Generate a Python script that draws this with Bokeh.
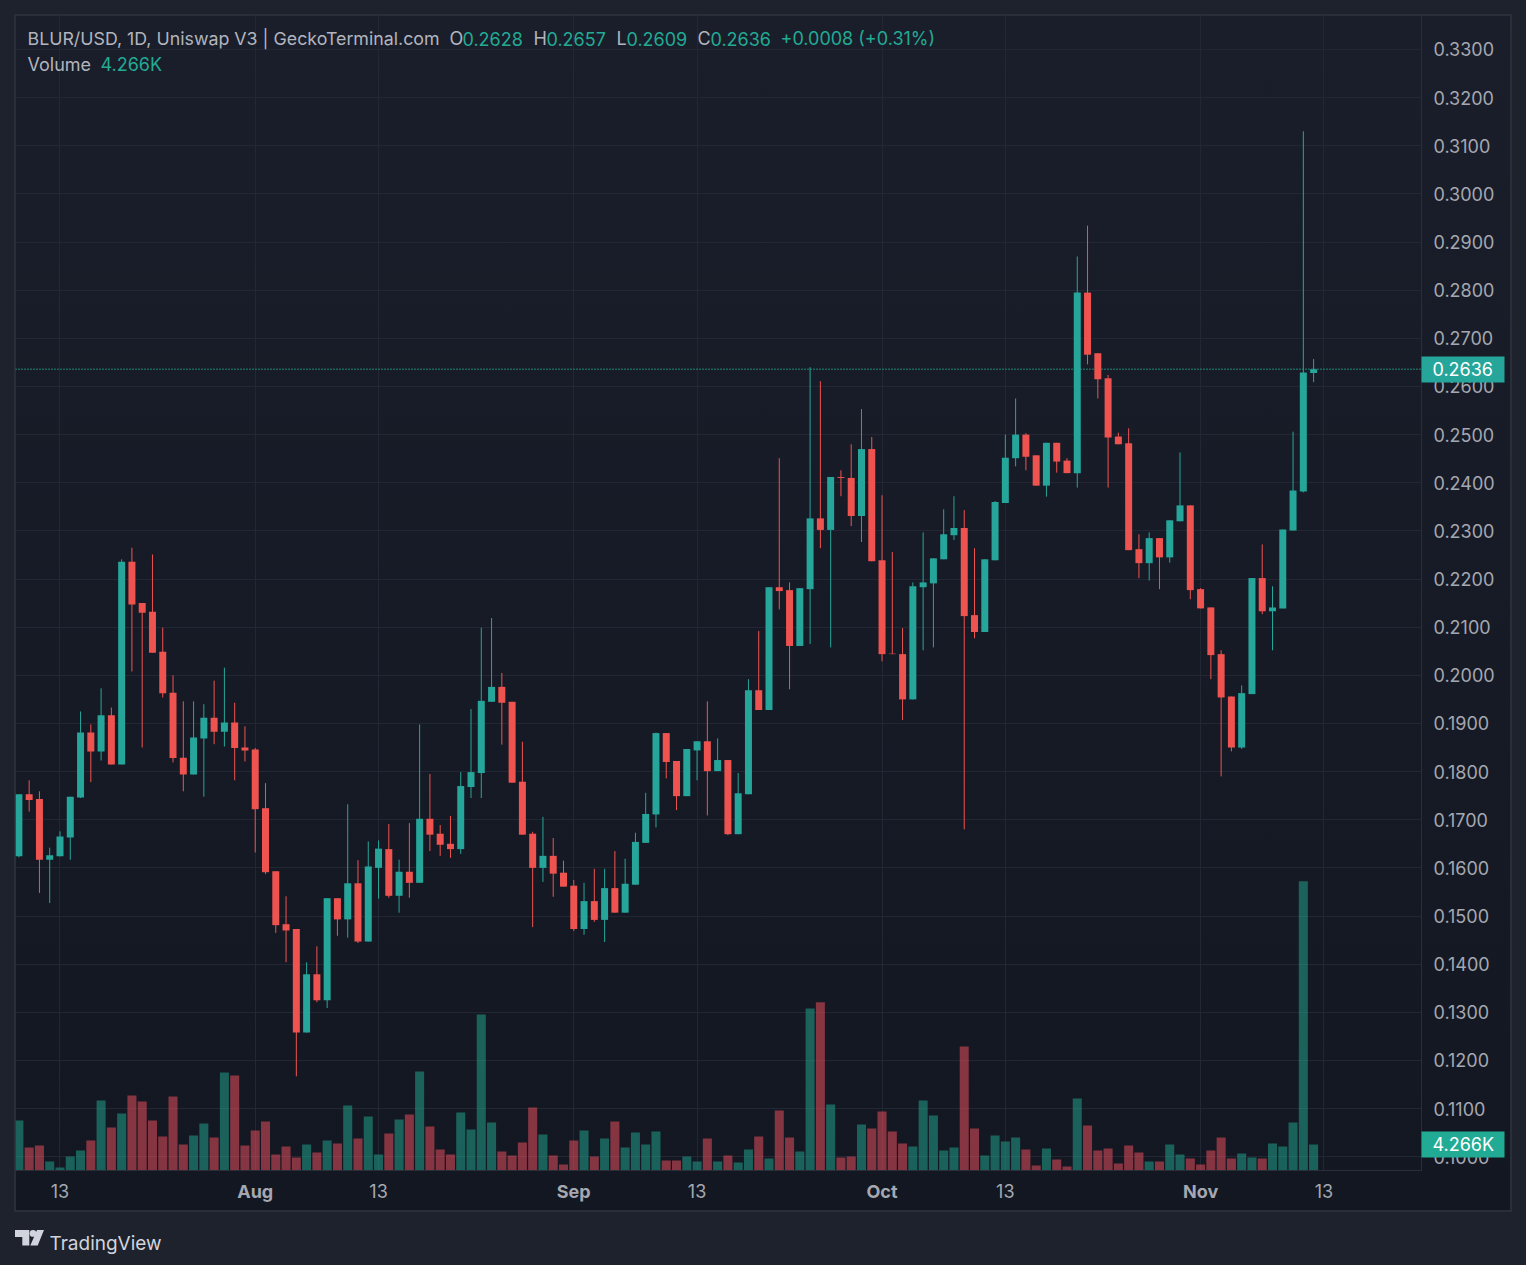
from bokeh.embed import file_html
from bokeh.resources import INLINE
from bokeh.plotting import figure
from bokeh.models import (ColumnDataSource, Range1d, FixedTicker, Label, Span, LinearAxis, Title,
                          GlobalInlineStyleSheet, InlineStyleSheet)

days = list(range(-4, 123))
opens = [.1624,.1753,.1743,.1617,.1624,.1663,.1746,.1881,.1842,.1917,
.1815,.2236,.2150,.2132,.2049,.1964,.1829,.1794,.1869,.1912,
.1883,.1902,.1850,.1846,.1724,.1593,.1483,.1473,.1258,.1379,
.1325,.1537,.1493,.1568,.1447,.1600,.1639,.1542,.1592,.1569,
.1702,.1671,.1650,.1639,.1768,.1797,.1945,.1976,.1945,.1779,
.1671,.1600,.1625,.1590,.1563,.1473,.1531,.1492,.1558,.1507,
.1565,.1652,.1711,.1880,.1822,.1749,.1844,.1863,.1801,.1824,
.1670,.1753,.1969,.1928,.2183,.2177,.2061,.2179,.2326,.2302,
.2412,.2410,.2331,.2470,.2239,.2045,.2044,.1950,.2183,.2191,
.2241,.2291,.2306,.2125,.2090,.2239,.2358,.2451,.2500,.2457,
.2394,.2483,.2446,.2420,.2795,.2669,.2617,.2496,.2482,.2262,
.2233,.2285,.2245,.2320,.2353,.2179,.2141,.2044,.1956,.1850,
.1961,.2202,.2133,.2139,.2301,.2382,.2628]
highs = [.1753,.1782,.1759,.1642,.1676,.1748,.1925,.1898,.1973,.1933,
.2241,.2265,.2150,.2251,.2099,.2000,.1946,.1946,.1940,.1989,
.2016,.1943,.1894,.1849,.1776,.1593,.1541,.1473,.1404,.1437,
.1537,.1537,.1732,.1616,.1655,.1657,.1691,.1617,.1693,.1898,
.1795,.1689,.1708,.1799,.1930,.2099,.2119,.2005,.1945,.1862,
.1675,.1706,.1662,.1615,.1575,.1569,.1598,.1598,.1635,.1619,
.1673,.1756,.1881,.1880,.1822,.1847,.1863,.1946,.1869,.1824,
.1797,.1992,.2092,.2183,.2451,.2193,.2181,.2640,.2611,.2412,
.2426,.2480,.2553,.2495,.2374,.2256,.2098,.2193,.2297,.2243,
.2345,.2372,.2343,.2264,.2241,.2362,.2500,.2575,.2503,.2457,
.2483,.2483,.2451,.2870,.2934,.2669,.2624,.2504,.2513,.2293,
.2297,.2285,.2322,.2463,.2353,.2181,.2141,.2052,.1956,.1979,
.2202,.2272,.2185,.2303,.2506,.3130,.2657]
lows = [.1622,.1717,.1548,.1527,.1624,.1617,.1745,.1778,.1823,.1815,
.1815,.2008,.1850,.2047,.1954,.1819,.1759,.1794,.1748,.1857,
.1852,.1782,.1821,.1632,.1587,.1465,.1404,.1167,.1258,.1321,
.1309,.1459,.1455,.1444,.1447,.1536,.1538,.1507,.1538,.1569,
.1635,.1625,.1621,.1629,.1745,.1745,.1945,.1856,.1777,.1669,
.1477,.1571,.1540,.1561,.1469,.1461,.1488,.1446,.1507,.1507,
.1565,.1652,.1684,.1786,.1720,.1749,.1782,.1709,.1801,.1668,
.1670,.1753,.1928,.1928,.2137,.1971,.2061,.2065,.2264,.2058,
.2372,.2310,.2277,.2237,.2029,.2044,.1907,.1950,.2052,.2058,
.2241,.2281,.1680,.2077,.2090,.2239,.2358,.2434,.2426,.2394,
.2371,.2421,.2420,.2390,.2646,.2575,.2390,.2480,.2260,.2202,
.2197,.2179,.2234,.2320,.2158,.2139,.1992,.1790,.1842,.1847,
.1961,.2127,.2052,.2139,.2301,.2380,.2609]
closes = [.1753,.1741,.1617,.1626,.1665,.1748,.1881,.1842,.1917,.1815,
.2236,.2147,.2130,.2047,.1963,.1828,.1794,.1871,.1912,.1883,
.1902,.1849,.1844,.1722,.1591,.1481,.1470,.1258,.1379,.1325,
.1537,.1493,.1568,.1447,.1603,.1640,.1542,.1592,.1569,.1702,
.1669,.1648,.1639,.1770,.1799,.1947,.1976,.1943,.1777,.1669,
.1600,.1625,.1588,.1561,.1473,.1531,.1492,.1558,.1507,.1567,
.1654,.1712,.1880,.1820,.1749,.1847,.1863,.1801,.1824,.1670,
.1755,.1969,.1928,.2183,.2175,.2061,.2181,.2326,.2302,.2412,
.2410,.2331,.2470,.2237,.2044,.2044,.1950,.2185,.2193,.2243,
.2293,.2306,.2123,.2090,.2241,.2360,.2452,.2500,.2454,.2394,
.2483,.2444,.2420,.2795,.2666,.2615,.2494,.2480,.2260,.2233,
.2285,.2245,.2322,.2353,.2177,.2139,.2042,.1954,.1850,.1963,
.2202,.2133,.2141,.2303,.2384,.2629,.2636]
volumes_k = [8.20,3.77,4.10,1.48,0.49,2.30,3.28,4.92,11.49,7.06,
9.35,12.31,11.32,8.20,5.58,12.14,4.27,5.74,7.71,5.42,
16.08,15.59,4.10,6.56,8.04,2.63,3.94,2.13,4.27,2.95,
4.92,4.43,10.67,5.25,8.86,2.63,6.07,8.37,9.19,16.25,
7.22,3.45,2.63,9.52,6.73,25.60,7.88,3.12,2.46,4.59,
10.34,5.91,2.46,0.98,4.92,6.56,2.30,5.25,8.04,3.77,
6.24,4.27,6.40,1.64,1.64,2.30,1.48,5.25,1.48,2.46,
1.31,3.45,5.58,1.97,9.85,5.42,3.12,26.58,27.57,10.83,
2.13,2.30,7.55,6.89,9.68,6.40,4.43,3.94,11.49,9.03,
3.28,3.77,20.35,6.89,2.46,5.74,4.76,5.42,3.45,0.82,
3.61,1.81,0.66,11.82,7.38,3.28,3.61,1.15,4.10,2.95,
1.48,1.48,4.27,2.63,1.97,0.98,3.28,5.42,1.97,2.79,
2.13,1.97,4.43,3.94,7.88,47.42,4.266]
price_ticks = [.10,.11,.12,.13,.14,.15,.16,.17,.18,.19,.20,.21,.22,.23,.24,.25,.26,.27,.28,.29,.30,.31,.32,.33]
day_labels = {0: "13", 31: "13", 62: "13", 92: "13", 123: "13"}
month_labels = {19: "Aug", 50: "Sep", 80: "Oct", 111: "Nov"}
last_price = 0.2636
last_volume = 4.266

FONT = "Inter"
UP, DOWN = "#26a69a", "#ef5350"
TEAL = "#22ab94"
AXIS_TEXT = "#a5a8b1"
HEAD_TEXT = "#b2b5be"
GRID = "#232733"
LINE = "#2a2e39"
OUTER = "#1e222d"

W, H = 1526, 1265
L, R, T, B = 15, 105, 15, 95
p = figure(width=W, height=H, output_backend="svg", toolbar_location=None,
           min_border_left=L, min_border_right=R, min_border_top=T, min_border_bottom=B,
           x_range=Range1d(-4.33, 132.5), y_range=Range1d(0.09714, 0.33706),
           x_axis_location="below", y_axis_location="right",
           background_fill_alpha=0, border_fill_alpha=0, outline_line_color=LINE)
p.extra_y_ranges = {"vol": Range1d(0, 189.4)}

logo_svg = ("data:image/svg+xml,%3Csvg xmlns='http://www.w3.org/2000/svg' width='29' height='16' viewBox='0 0 29 16'%3E"
            "%3Cg fill='%23d1d4dc'%3E%3Cpath d='M0 0H14.3V15.5H7.3V7H0Z'/%3E"
            "%3Ccircle cx='18' cy='3.4' r='3.4'/%3E%3Cpath d='M22 0H29L22.7 15.5H15.3Z'/%3E%3C/g%3E%3C/svg%3E")
css = f"""
:host {{ position: relative; }}
:host::before {{ content: ""; position: absolute; left: 14px; top: 14px; width: 1498px; height: 1198px;
  box-sizing: border-box; border: 2px solid {LINE};
  background: linear-gradient(#1a1e2a, #131722); z-index: 0; }}
:host::after {{ content: ""; position: absolute; left: 15px; top: 1230px; width: 29px; height: 16px;
  background: url("{logo_svg}") no-repeat 0 0 / 29px 16px; z-index: 2; }}
"""
p.stylesheets = [InlineStyleSheet(css=css), GlobalInlineStyleSheet(css=f"html, body {{ background: {OUTER}; overflow: hidden; }}")]

# grid and axes
p.ygrid.ticker = FixedTicker(ticks=price_ticks)
p.xgrid.ticker = FixedTicker(ticks=list(day_labels) + list(month_labels))
for g in (p.xgrid, p.ygrid):
    g.grid_line_color = GRID
    g.grid_line_width = 1

ax = p.yaxis[0]
ax.ticker = FixedTicker(ticks=price_ticks)
ax.major_label_overrides = {t: f"{t:.4f}" for t in price_ticks}
ax.major_tick_out = ax.major_tick_in = ax.minor_tick_out = ax.minor_tick_in = 0
ax.axis_line_color = LINE
ax.major_label_standoff = 12
ax.major_label_text_font = FONT
ax.major_label_text_font_size = "18px"
ax.major_label_text_color = AXIS_TEXT

bx = p.xaxis[0]
bx.ticker = FixedTicker(ticks=list(day_labels))
bx.major_label_overrides = day_labels
bx.major_tick_out = bx.major_tick_in = bx.minor_tick_out = bx.minor_tick_in = 0
bx.axis_line_color = LINE
bx.major_label_standoff = 13
bx.major_label_text_font = FONT
bx.major_label_text_font_size = "18px"
bx.major_label_text_color = AXIS_TEXT

# month labels: second bottom axis laid over the first
mx = LinearAxis(ticker=FixedTicker(ticks=list(month_labels)), major_label_overrides=month_labels,
                major_tick_out=0, major_tick_in=0, minor_tick_out=0, minor_tick_in=0,
                axis_line_color=None, major_label_standoff=-20, major_label_text_font=FONT,
                major_label_text_font_size="18px", major_label_text_font_style="bold",
                major_label_text_color=AXIS_TEXT)
p.add_layout(mx, "below")


def tag_axis(value, label, color, tick_in, standoff, **kw):
    a = LinearAxis(ticker=FixedTicker(ticks=[value]), major_label_overrides={value: label},
                   major_tick_in=tick_in, major_tick_out=83 - tick_in, major_tick_line_color=color,
                   major_tick_line_width=26, minor_tick_in=0, minor_tick_out=0, axis_line_color=None,
                   major_label_standoff=standoff, major_label_text_font=FONT, major_label_text_font_size="18px",
                   major_label_text_color="#ffffff", **kw)
    p.add_layout(a, "right")


tag_axis(last_price, "0.2636", UP, 76, -72)
tag_axis(last_volume, "4.266K", TEAL, 76, -72, y_range_name="vol")

# price line
p.add_layout(Span(location=last_price, dimension="width", line_color=TEAL, line_width=1.5,
                  line_dash=[1, 2], level="underlay"))

# marks
colors = [UP if c >= o else DOWN for o, c in zip(opens, closes)]
vol_colors = [TEAL if c >= o else "#f7525f" for o, c in zip(opens, closes)]
src = ColumnDataSource(dict(x=days, o=opens, h=highs, l=lows, c=closes, v=volumes_k,
                            col=colors, vcol=vol_colors,
                            top=[max(a, b) for a, b in zip(opens, closes)],
                            bot=[min(a, b) for a, b in zip(opens, closes)]))
p.vbar(x="x", top="v", bottom=0, width=0.88, source=src, y_range_name="vol",
       fill_color="vcol", fill_alpha=0.5, line_color=None)
p.segment(x0="x", x1="x", y0="l", y1="h", source=src, line_color="col", line_width=1)
p.vbar(x="x", top="top", bottom="bot", width=0.68, source=src, fill_color="col", line_color=None)


def text(s, px, py, color=HEAD_TEXT, size="18px", **kw):
    p.add_layout(Label(x=px - 15, y=1170 - py, x_units="screen", y_units="screen", text=s,
                       text_color=color, text_font=FONT, text_font_size=size,
                       text_baseline="middle", level="overlay", **kw))


text("BLUR/USD, 1D, Uniswap V3 | GeckoTerminal.com", 27, 38, size="17.8px")
for s, px, col in [("O", 449, HEAD_TEXT), ("0.2628", 462, TEAL), ("H", 533, HEAD_TEXT), ("0.2657", 546, TEAL),
                   ("L", 616, HEAD_TEXT), ("0.2609", 626, TEAL), ("C", 697, HEAD_TEXT), ("0.2636", 710, TEAL),
                   ("+0.0008 (+0.31%)", 780, TEAL)]:
    text(s, px, 38, col)
text("Volume", 27, 64)
text("4.266K", 100, 64, TEAL)

# blank title as a spacer: pushes the brand line down without shrinking the chart frame
p.add_layout(Title(text=" ", standoff=0, text_font=FONT, text_font_size="19px", text_color=OUTER), "below")
p.add_layout(Title(text="TradingView", align="left", offset=34, standoff=1, text_font=FONT,
                   text_font_size="19px", text_font_style="normal", text_color="#d1d4dc"), "below")

open("out.html", "w").write(file_html(p, INLINE))
